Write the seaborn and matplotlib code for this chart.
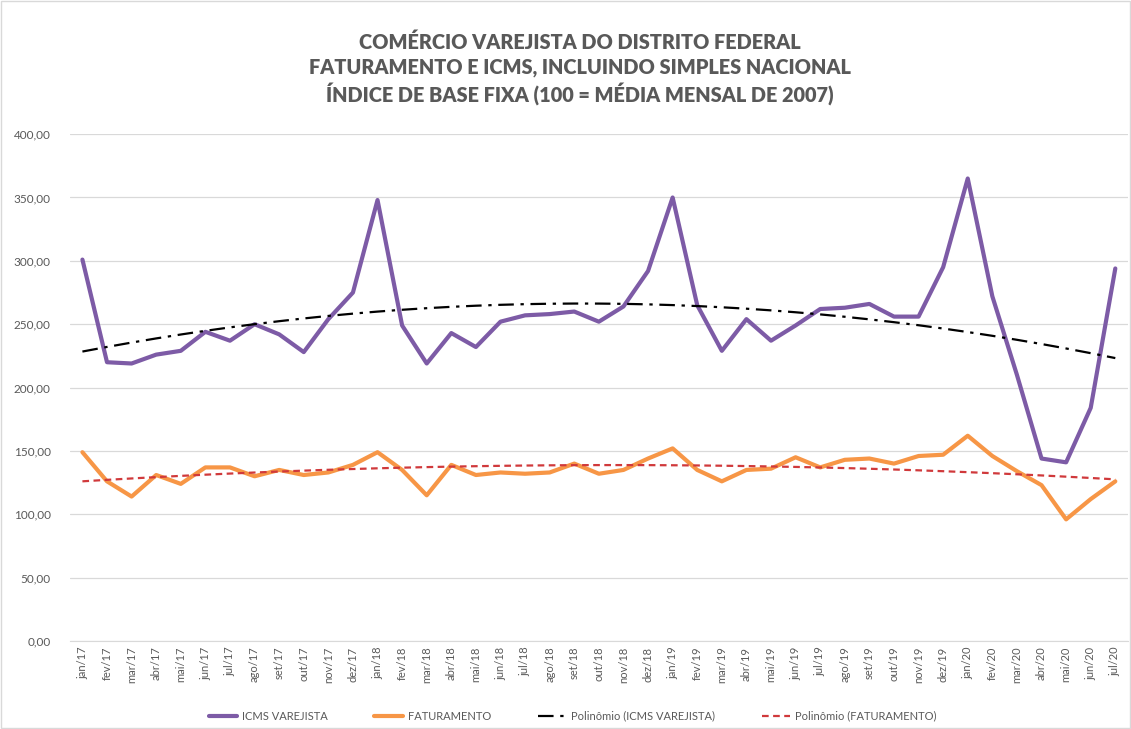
import matplotlib
matplotlib.use('agg')
import matplotlib.pyplot as plt
import numpy as np
import pandas as pd
import seaborn as sns
from matplotlib.ticker import FuncFormatter

meses = ['jan/17', 'fev/17', 'mar/17', 'abr/17', 'mai/17', 'jun/17', 'jul/17', 'ago/17', 'set/17', 'out/17',
         'nov/17', 'dez/17', 'jan/18', 'fev/18', 'mar/18', 'abr/18', 'mai/18', 'jun/18', 'jul/18', 'ago/18',
         'set/18', 'out/18', 'nov/18', 'dez/18', 'jan/19', 'fev/19', 'mar/19', 'abr/19', 'mai/19', 'jun/19',
         'jul/19', 'ago/19', 'set/19', 'out/19', 'nov/19', 'dez/19', 'jan/20', 'fev/20', 'mar/20', 'abr/20',
         'mai/20', 'jun/20', 'jul/20']

icms = [301, 220, 219, 226, 229, 244, 237, 250, 242, 228,
        254, 275, 348, 249, 219, 243, 232, 252, 257, 258,
        260, 252, 264, 292, 350, 265, 229, 254, 237, 249,
        262, 263, 266, 256, 256, 295, 365, 272, 210, 144,
        141, 184, 294]

faturamento = [149, 126, 114, 131, 124, 137, 137, 130, 135, 131,
               133, 139, 149, 135, 115, 139, 131, 133, 132, 133,
               140, 132, 135, 144, 152, 135, 126, 135, 136, 145,
               137, 143, 144, 140, 146, 147, 162, 146, 134, 123,
               96, 112, 126]

roxo = '#7d5ba6'
laranja = '#f79646'
cinza = '#595959'

sns.set_style('white')
plt.rcParams['font.family'] = ['Lato', 'DejaVu Sans']

x = np.arange(len(meses))
df = pd.DataFrame({'x': x, 'ICMS VAREJISTA': icms, 'FATURAMENTO': faturamento})

# linhas de tendencia polinomiais (ordem 2), como no Excel
tend_icms = np.polyval(np.polyfit(x, icms, 2), x)
tend_fat = np.polyval(np.polyfit(x, faturamento, 2), x)

fig = plt.figure(figsize=(11.31, 7.29), dpi=100)
ax = fig.add_axes([0.062, 0.1207, 0.935, 0.6953])

sns.lineplot(x='x', y='ICMS VAREJISTA', data=df, ax=ax, color=roxo, lw=3, label='ICMS VAREJISTA')
sns.lineplot(x='x', y='FATURAMENTO', data=df, ax=ax, color=laranja, lw=3, label='FATURAMENTO')
sns.lineplot(x=x, y=tend_icms, ax=ax, color='black', lw=1.6,
             label='Polinômio (ICMS VAREJISTA)').lines[-1].set_dashes([7, 3, 1.5, 3])
sns.lineplot(x=x, y=tend_fat, ax=ax, color='#d0393b', lw=1.6,
             label='Polinômio (FATURAMENTO)').lines[-1].set_dashes([3, 2])

ax.set_xlim(-0.5, len(meses) - 0.5)
ax.set_ylim(0, 400)
ax.set_yticks(range(0, 401, 50))
ax.yaxis.set_major_formatter(FuncFormatter(lambda v, p: ('%.2f' % v).replace('.', ',')))
ax.set_xticks(x)
ax.set_xticklabels(meses, rotation=90, fontsize=8, color=cinza)
ax.tick_params(axis='y', labelsize=8.5, labelcolor=cinza, length=0, pad=14)
ax.tick_params(axis='x', length=0, pad=4)
ax.grid(axis='y', color='#d9d9d9', lw=0.9)
ax.set_xlabel('')
ax.set_ylabel('')
for s in ['top', 'right', 'left']:
    ax.spines[s].set_visible(False)
ax.spines['bottom'].set_color('#d9d9d9')

ax.legend(loc='center', bbox_to_anchor=(0.475, -0.148), ncol=4, frameon=False, fontsize=8,
          handlelength=2.6, handletextpad=0.4, columnspacing=4.2, labelcolor=cinza)

fig.text(0.513, 0.955, 'COMÉRCIO VAREJISTA DO DISTRITO FEDERAL\n'
         'FATURAMENTO E ICMS, INCLUINDO SIMPLES NACIONAL\n'
         'ÍNDICE DE BASE FIXA (100 = MÉDIA MENSAL DE 2007)',
         ha='center', va='top', fontsize=14.3, fontweight='heavy', color=cinza, linespacing=1.3)

fig.patches.append(plt.Rectangle((0.001, 0.001), 0.998, 0.998, transform=fig.transFigure,
                                 fill=False, ec='#d9d9d9', lw=1))

plt.savefig('out.png', dpi=100)
